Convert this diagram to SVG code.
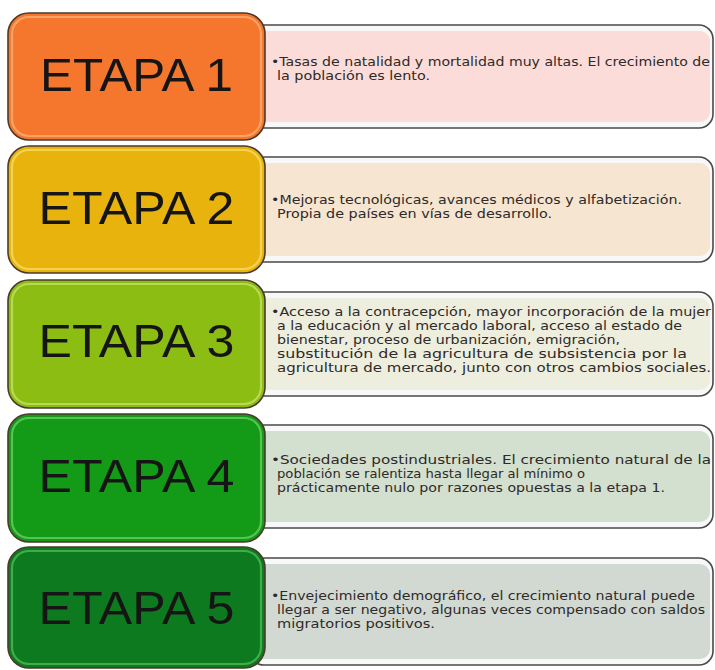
<svg xmlns="http://www.w3.org/2000/svg" width="715" height="670" viewBox="0 0 715 670">
<style>
.bg{fill:#ffffff}
.rout{fill:#f8f8f8;stroke:#4a4a4a;stroke-width:1.6}
.lbox{stroke:#4a3b2c;stroke-width:1.6}
.hl{fill:none;stroke-width:2.2;stroke-opacity:0.75}
.title{font-family:"Liberation Sans",Arial,sans-serif;font-size:47px;fill:#151515;text-anchor:middle}
.body{font-family:"DejaVu Sans","Liberation Sans",sans-serif;font-size:13px;fill:#2f2929}
</style>
<rect class="bg" x="0" y="0" width="715" height="670"/>
<g id="connectors"/>
<g id="etapa1">
  <rect class="rout" x="250" y="25" width="463" height="103" rx="14"/>
  <rect x="250" y="31" width="460" height="91" rx="10" fill="#fcdcd8"/>
  <rect class="lbox" x="8" y="13" width="257" height="127" rx="21" fill="#f5772e"/>
  <rect class="hl" x="12" y="17" width="249" height="119" rx="17" stroke="#fbb27a"/>
  <text class="title" x="136.5" y="91" textLength="193" lengthAdjust="spacingAndGlyphs">ETAPA 1</text>
  <text class="body" x="271" y="66" textLength="439" lengthAdjust="spacingAndGlyphs">•Tasas de natalidad y mortalidad muy altas. El crecimiento de</text>
  <text class="body" x="277" y="80" textLength="153" lengthAdjust="spacingAndGlyphs">la población es lento.</text>
</g>
<g id="etapa2">
  <rect class="rout" x="250" y="157" width="463" height="105" rx="14"/>
  <rect x="250" y="163" width="460" height="93" rx="10" fill="#f5e5d1"/>
  <rect class="lbox" x="8" y="146" width="257" height="127" rx="21" fill="#e9b30d"/>
  <rect class="hl" x="12" y="150" width="249" height="119" rx="17" stroke="#f8dc6a"/>
  <text class="title" x="136.5" y="224" textLength="196" lengthAdjust="spacingAndGlyphs">ETAPA 2</text>
  <text class="body" x="271" y="204" textLength="411" lengthAdjust="spacingAndGlyphs">•Mejoras tecnológicas, avances médicos y alfabetización.</text>
  <text class="body" x="277" y="218" textLength="275" lengthAdjust="spacingAndGlyphs">Propia de países en vías de desarrollo.</text>
</g>
<g id="etapa3">
  <rect class="rout" x="250" y="292" width="463" height="104" rx="14"/>
  <rect x="250" y="298" width="460" height="92" rx="10" fill="#edeedd"/>
  <rect class="lbox" x="8" y="280" width="257" height="128" rx="21" fill="#8cbd12"/>
  <rect class="hl" x="12" y="284" width="249" height="120" rx="17" stroke="#c6e36a"/>
  <text class="title" x="136.5" y="357" textLength="196" lengthAdjust="spacingAndGlyphs">ETAPA 3</text>
  <text class="body" x="271" y="316" textLength="440" lengthAdjust="spacingAndGlyphs">•Acceso a la contracepción, mayor incorporación de la mujer</text>
  <text class="body" x="277" y="330" textLength="405" lengthAdjust="spacingAndGlyphs">a la educación y al mercado laboral, acceso al estado de</text>
  <text class="body" x="277" y="344" textLength="343" lengthAdjust="spacingAndGlyphs">bienestar, proceso de urbanización, emigración,</text>
  <text class="body" x="277" y="358" textLength="410" lengthAdjust="spacingAndGlyphs">substitución de la agricultura de subsistencia por la</text>
  <text class="body" x="277" y="372" textLength="434" lengthAdjust="spacingAndGlyphs">agricultura de mercado, junto con otros cambios sociales.</text>
</g>
<g id="etapa4">
  <rect class="rout" x="250" y="425" width="463" height="103" rx="14"/>
  <rect x="250" y="431" width="460" height="91" rx="10" fill="#d3dfcf"/>
  <rect class="lbox" x="8" y="414" width="257" height="128" rx="21" fill="#139a17"/>
  <rect class="hl" x="12" y="418" width="249" height="120" rx="17" stroke="#6fd06a"/>
  <text class="title" x="136.5" y="492" textLength="196" lengthAdjust="spacingAndGlyphs">ETAPA 4</text>
  <text class="body" x="271" y="464" textLength="440" lengthAdjust="spacingAndGlyphs">•Sociedades postindustriales. El crecimiento natural de la</text>
  <text class="body" x="277" y="478" textLength="308" lengthAdjust="spacingAndGlyphs">población se ralentiza hasta llegar al mínimo o</text>
  <text class="body" x="277" y="492" textLength="388" lengthAdjust="spacingAndGlyphs">prácticamente nulo por razones opuestas a la etapa 1.</text>
</g>
<g id="etapa5">
  <rect class="rout" x="250" y="558" width="463" height="107" rx="14"/>
  <rect x="250" y="564" width="460" height="95" rx="10" fill="#d2d9d2"/>
  <rect class="lbox" x="8" y="547" width="257" height="121" rx="21" fill="#0e7a1f"/>
  <rect class="hl" x="12" y="551" width="249" height="113" rx="17" stroke="#4fbf5a"/>
  <text class="title" x="136.5" y="624" textLength="196" lengthAdjust="spacingAndGlyphs">ETAPA 5</text>
  <text class="body" x="271" y="600" textLength="424" lengthAdjust="spacingAndGlyphs">•Envejecimiento demográfico, el crecimiento natural puede</text>
  <text class="body" x="277" y="614" textLength="428" lengthAdjust="spacingAndGlyphs">llegar a ser negativo, algunas veces compensado con saldos</text>
  <text class="body" x="277" y="628" textLength="158" lengthAdjust="spacingAndGlyphs">migratorios positivos.</text>
</g>
</svg>
